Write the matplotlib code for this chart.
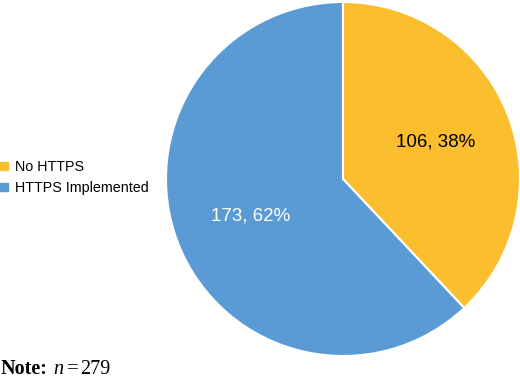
import matplotlib
matplotlib.use('Agg')
import matplotlib.pyplot as plt
from matplotlib.lines import Line2D

categories = ['No HTTPS', 'HTTPS Implemented']
counts = [106, 173]
colors = ['#FBBE2E', '#5B9BD5']
text_colors = ['black', 'white']
n_total = 279

plt.rcParams['font.family'] = ['Liberation Sans', 'DejaVu Sans']

W, H = 520, 385
fig = plt.figure(figsize=(W / 100, H / 100), dpi=100)
ax = fig.add_axes([166 / W, 29 / H, 354 / W, 354 / H])

total = sum(counts)
wedges, texts, autotexts = ax.pie(
    counts, colors=colors, startangle=90, counterclock=False,
    autopct=lambda p: f"{round(p * total / 100)}, {p:.0f}%",
    pctdistance=0.56,
    wedgeprops=dict(edgecolor='white', linewidth=1.5),
    textprops=dict(fontsize=13.5),
)
for t, c in zip(autotexts, text_colors):
    t.set_color(c)
ax.set_aspect('equal')
ax.set_xlim(-1.0, 1.0)
ax.set_ylim(-1.0, 1.0)

handles = [Line2D([0], [0], marker='s', linestyle='', markersize=5.5,
                  markerfacecolor=c, markeredgecolor=c) for c in colors]
fig.legend(handles, categories, loc='center left', bbox_to_anchor=(-0.02, 1 - 177.5 / H),
           frameon=False, fontsize=10.25, handletextpad=0.15, handlelength=1.2,
           labelspacing=0.5, borderaxespad=0)

# note line at the bottom
note_y = 1 - 369 / H
serif = 'Liberation Serif'
fig.text(1 / W, note_y, 'Note:', fontsize=14.5, family=serif, weight='bold', va='center')
fig.text(53 / W, note_y, 'n', fontsize=14.5, family=serif, style='italic', va='center')
fig.text(66.5 / W, note_y, '=', fontsize=15, family=serif, va='center')
fig.text(80 / W, note_y, str(n_total), fontsize=14.5, family=serif, va='center')

plt.savefig('out.png', dpi=100)
